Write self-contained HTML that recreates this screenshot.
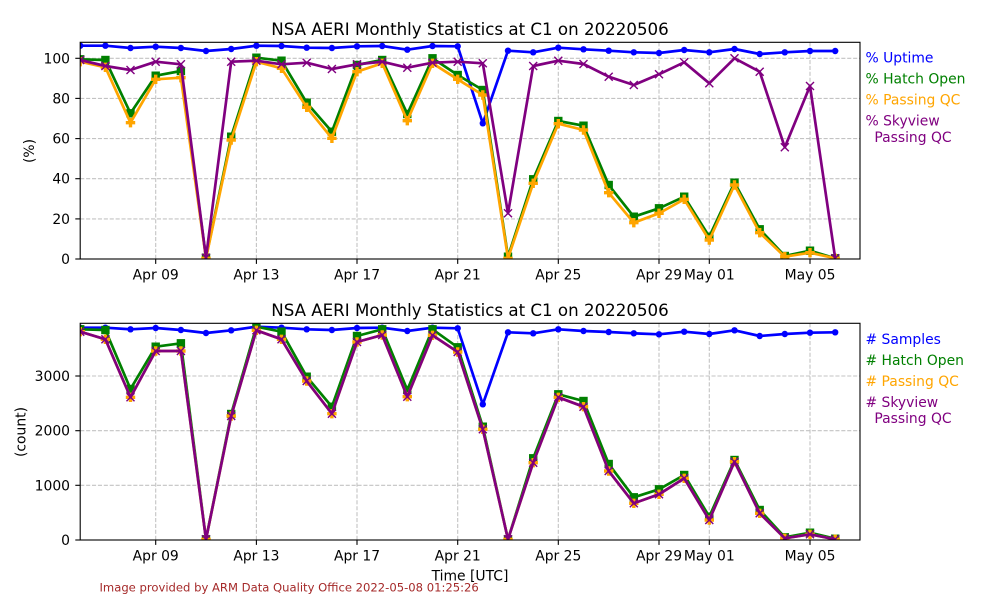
<!DOCTYPE html>
<html><head><meta charset="utf-8"><style>html,body{margin:0;padding:0;background:#fff}svg{display:block}</style></head>
<body>
<svg width="1000" height="600" viewBox="0 0 1000 600" xmlns="http://www.w3.org/2000/svg" font-family="'DejaVu Sans', 'Liberation Sans', sans-serif">
<defs>
<marker id="mb" viewBox="-6 -6 12 12" refX="0" refY="0" markerWidth="12" markerHeight="12" markerUnits="userSpaceOnUse" overflow="visible"><circle r="3.2" fill="#0000ff"/></marker>
<marker id="mg" viewBox="-6 -6 12 12" refX="0" refY="0" markerWidth="12" markerHeight="12" markerUnits="userSpaceOnUse" overflow="visible"><rect x="-4.2" y="-4.2" width="8.4" height="8.4" fill="#008000"/></marker>
<marker id="mo" viewBox="-6 -6 12 12" refX="0" refY="0" markerWidth="12" markerHeight="12" markerUnits="userSpaceOnUse" overflow="visible"><polygon points="-1.7,-4.7 1.7,-4.7 1.7,-1.7 4.7,-1.7 4.7,1.7 1.7,1.7 1.7,4.7 -1.7,4.7 -1.7,1.7 -4.7,1.7 -4.7,-1.7 -1.7,-1.7" fill="#ffa500"/></marker>
<marker id="mp" viewBox="-6 -6 12 12" refX="0" refY="0" markerWidth="12" markerHeight="12" markerUnits="userSpaceOnUse" overflow="visible"><path d="M-4,-4L4,4M-4,4L4,-4" stroke="#800080" stroke-width="1.4" fill="none"/></marker>
<clipPath id="c1"><rect x="80.2" y="42.3" width="779.8" height="216.7"/></clipPath>
<clipPath id="c2"><rect x="80.2" y="323.3" width="779.8" height="216.7"/></clipPath>
</defs>

<!-- ===== TOP PANEL ===== -->
<g stroke="#b0b0b0" stroke-width="1.1" stroke-dasharray="4.1,1.8" opacity="0.75">
<line x1="155.7" y1="42.3" x2="155.7" y2="259"/>
<line x1="256.4" y1="42.3" x2="256.4" y2="259"/>
<line x1="357.0" y1="42.3" x2="357.0" y2="259"/>
<line x1="457.7" y1="42.3" x2="457.7" y2="259"/>
<line x1="558.3" y1="42.3" x2="558.3" y2="259"/>
<line x1="659.0" y1="42.3" x2="659.0" y2="259"/>
<line x1="709.3" y1="42.3" x2="709.3" y2="259"/>
<line x1="810.0" y1="42.3" x2="810.0" y2="259"/>
<line x1="80.2" y1="218.9" x2="860" y2="218.9"/>
<line x1="80.2" y1="178.7" x2="860" y2="178.7"/>
<line x1="80.2" y1="138.6" x2="860" y2="138.6"/>
<line x1="80.2" y1="98.4" x2="860" y2="98.4"/>
<line x1="80.2" y1="58.3" x2="860" y2="58.3"/>
</g>

<g clip-path="url(#c1)" fill="none" stroke-width="2.7" stroke-linejoin="round">
<polyline stroke="#0000ff" marker-start="url(#mb)" marker-mid="url(#mb)" marker-end="url(#mb)" points="80.2,45.7 105.4,45.7 130.5,48.0 155.7,46.7 180.9,48.0 206.0,51.0 231.2,49.0 256.4,45.7 281.5,46.0 306.7,47.7 331.9,48.0 357.0,46.3 382.2,46.0 407.3,49.7 432.5,46.0 457.7,46.3 482.8,123.3 508.0,50.7 533.2,52.3 558.3,47.7 583.5,49.3 608.7,50.7 633.8,52.3 659.0,53.0 684.2,50.0 709.3,52.3 734.5,49.0 759.7,54.0 784.8,52.3 810.0,51.0 835.2,51.0"/>
<polyline stroke="#008000" marker-start="url(#mg)" marker-mid="url(#mg)" marker-end="url(#mg)" points="80.2,59.3 105.4,60.0 130.5,113.3 155.7,75.7 180.9,71.0 206.0,257.7 231.2,136.7 256.4,57.7 281.5,60.7 306.7,102.7 331.9,131.7 357.0,65.0 382.2,60.0 407.3,114.0 432.5,58.3 457.7,75.0 482.8,90.0 508.0,256.7 533.2,179.3 558.3,121.0 583.5,125.7 608.7,185.0 633.8,216.7 659.0,208.3 684.2,196.7 709.3,236.7 734.5,182.7 759.7,229.3 784.8,256.0 810.0,250.7 835.2,258.3"/>
<polyline stroke="#ffa500" marker-start="url(#mo)" marker-mid="url(#mo)" marker-end="url(#mo)" points="80.2,61.7 105.4,67.3 130.5,122.7 155.7,79.3 180.9,77.7 206.0,258.3 231.2,140.0 256.4,61.7 281.5,68.3 306.7,107.3 331.9,138.3 357.0,71.7 382.2,63.3 407.3,120.7 432.5,63.3 457.7,79.3 482.8,95.0 508.0,258.3 533.2,183.3 558.3,123.7 583.5,130.0 608.7,192.7 633.8,222.7 659.0,213.3 684.2,199.3 709.3,240.0 734.5,185.0 759.7,232.7 784.8,256.7 810.0,252.7 835.2,258.3"/>
<polyline stroke="#800080" marker-start="url(#mp)" marker-mid="url(#mp)" marker-end="url(#mp)" points="80.2,60.0 105.4,66.0 130.5,70.0 155.7,61.7 180.9,64.3 206.0,257.7 231.2,61.7 256.4,60.7 281.5,64.3 306.7,62.7 331.9,69.0 357.0,64.3 382.2,61.7 407.3,67.7 432.5,62.7 457.7,61.7 482.8,63.3 508.0,213.3 533.2,66.0 558.3,60.7 583.5,64.0 608.7,76.7 633.8,85.0 659.0,74.3 684.2,62.3 709.3,83.3 734.5,58.3 759.7,71.7 784.8,147.3 810.0,86.0 835.2,258.3"/>
</g>

<rect x="80.2" y="42.3" width="779.8" height="216.7" fill="none" stroke="#000" stroke-width="1.1"/>
<g stroke="#000" stroke-width="1.1">
<line x1="155.7" y1="259" x2="155.7" y2="263.9"/>
<line x1="256.4" y1="259" x2="256.4" y2="263.9"/>
<line x1="357.0" y1="259" x2="357.0" y2="263.9"/>
<line x1="457.7" y1="259" x2="457.7" y2="263.9"/>
<line x1="558.3" y1="259" x2="558.3" y2="263.9"/>
<line x1="659.0" y1="259" x2="659.0" y2="263.9"/>
<line x1="709.3" y1="259" x2="709.3" y2="263.9"/>
<line x1="810.0" y1="259" x2="810.0" y2="263.9"/>
<line x1="75.3" y1="259" x2="80.2" y2="259"/>
<line x1="75.3" y1="218.9" x2="80.2" y2="218.9"/>
<line x1="75.3" y1="178.7" x2="80.2" y2="178.7"/>
<line x1="75.3" y1="138.6" x2="80.2" y2="138.6"/>
<line x1="75.3" y1="98.4" x2="80.2" y2="98.4"/>
<line x1="75.3" y1="58.3" x2="80.2" y2="58.3"/>
</g>
<g font-size="13.9" fill="#000" text-anchor="middle">
<text x="155.7" y="279.5">Apr 09</text>
<text x="256.4" y="279.5">Apr 13</text>
<text x="357.0" y="279.5">Apr 17</text>
<text x="457.7" y="279.5">Apr 21</text>
<text x="558.3" y="279.5">Apr 25</text>
<text x="659.0" y="279.5">Apr 29</text>
<text x="709.3" y="279.5">May 01</text>
<text x="810.0" y="279.5">May 05</text>
</g>
<g font-size="13.9" fill="#000" text-anchor="end">
<text x="70" y="264">0</text>
<text x="70" y="223.9">20</text>
<text x="70" y="183.7">40</text>
<text x="70" y="143.6">60</text>
<text x="70" y="103.4">80</text>
<text x="70" y="63.3">100</text>
</g>
<text x="470" y="35" font-size="16.67" text-anchor="middle" fill="#000">NSA AERI Monthly Statistics at C1 on 20220506</text>
<text transform="translate(34,151) rotate(-90)" font-size="13.9" text-anchor="middle" fill="#000">(%)</text>
<g font-size="13.9">
<text x="865.5" y="62.7" fill="#0000ff">% Uptime</text>
<text x="865.5" y="83.6" fill="#008000">% Hatch Open</text>
<text x="865.5" y="104.5" fill="#ffa500">% Passing QC</text>
<text x="865.5" y="125.5" fill="#800080">% Skyview</text>
<text x="865.5" y="141.8" fill="#800080" xml:space="preserve">  Passing QC</text>
</g>

<!-- ===== BOTTOM PANEL ===== -->
<g stroke="#b0b0b0" stroke-width="1.1" stroke-dasharray="4.1,1.8" opacity="0.75">
<line x1="155.7" y1="323.3" x2="155.7" y2="540"/>
<line x1="256.4" y1="323.3" x2="256.4" y2="540"/>
<line x1="357.0" y1="323.3" x2="357.0" y2="540"/>
<line x1="457.7" y1="323.3" x2="457.7" y2="540"/>
<line x1="558.3" y1="323.3" x2="558.3" y2="540"/>
<line x1="659.0" y1="323.3" x2="659.0" y2="540"/>
<line x1="709.3" y1="323.3" x2="709.3" y2="540"/>
<line x1="810.0" y1="323.3" x2="810.0" y2="540"/>
<line x1="80.2" y1="485.3" x2="860" y2="485.3"/>
<line x1="80.2" y1="430.7" x2="860" y2="430.7"/>
<line x1="80.2" y1="376" x2="860" y2="376"/>
</g>

<g clip-path="url(#c2)" fill="none" stroke-width="2.7" stroke-linejoin="round">
<polyline stroke="#0000ff" marker-start="url(#mb)" marker-mid="url(#mb)" marker-end="url(#mb)" points="80.2,327.7 105.4,327.7 130.5,329.3 155.7,328.0 180.9,330.0 206.0,333.0 231.2,330.3 256.4,326.7 281.5,327.7 306.7,329.3 331.9,330.0 357.0,328.0 382.2,327.7 407.3,331.0 432.5,327.7 457.7,328.3 482.8,404.3 508.0,332.3 533.2,333.3 558.3,329.3 583.5,331.0 608.7,332.0 633.8,333.3 659.0,334.3 684.2,331.7 709.3,334.0 734.5,330.3 759.7,336.0 784.8,334.0 810.0,332.7 835.2,332.3"/>
<polyline stroke="#008000" marker-start="url(#mg)" marker-mid="url(#mg)" marker-end="url(#mg)" points="80.2,329.3 105.4,330.0 130.5,389.0 155.7,346.7 180.9,343.3 206.0,539.3 231.2,414.0 256.4,326.7 281.5,331.7 306.7,376.7 331.9,406.7 357.0,336.0 382.2,329.3 407.3,390.0 432.5,329.3 457.7,347.3 482.8,426.7 508.0,539.3 533.2,458.3 558.3,394.3 583.5,401.0 608.7,464.0 633.8,497.3 659.0,489.3 684.2,475.0 709.3,516.7 734.5,460.0 759.7,510.0 784.8,537.3 810.0,532.7 835.2,538.7"/>
<polyline stroke="#ffa500" marker-start="url(#mo)" marker-mid="url(#mo)" marker-end="url(#mo)" points="80.2,331.7 105.4,339.3 130.5,397.3 155.7,351.0 180.9,351.0 206.0,539.3 231.2,416.0 256.4,330.3 281.5,339.3 306.7,381.0 331.9,413.7 357.0,342.0 382.2,335.0 407.3,396.7 432.5,335.3 457.7,352.0 482.8,429.3 508.0,539.3 533.2,462.7 558.3,397.3 583.5,406.7 608.7,471.0 633.8,503.3 659.0,494.3 684.2,478.3 709.3,520.0 734.5,461.7 759.7,513.3 784.8,538.3 810.0,534.3 835.2,539.3"/>
<polyline stroke="#800080" marker-start="url(#mp)" marker-mid="url(#mp)" marker-end="url(#mp)" points="80.2,331.7 105.4,339.3 130.5,397.3 155.7,351.0 180.9,351.0 206.0,539.3 231.2,416.0 256.4,330.3 281.5,339.3 306.7,381.0 331.9,413.7 357.0,342.0 382.2,335.0 407.3,396.7 432.5,335.3 457.7,352.0 482.8,429.3 508.0,539.3 533.2,462.7 558.3,397.3 583.5,406.7 608.7,471.0 633.8,503.3 659.0,494.3 684.2,478.3 709.3,520.0 734.5,461.7 759.7,513.3 784.8,538.3 810.0,534.3 835.2,539.3"/>
</g>

<rect x="80.2" y="323.3" width="779.8" height="216.7" fill="none" stroke="#000" stroke-width="1.1"/>
<g stroke="#000" stroke-width="1.1">
<line x1="155.7" y1="540" x2="155.7" y2="544.9"/>
<line x1="256.4" y1="540" x2="256.4" y2="544.9"/>
<line x1="357.0" y1="540" x2="357.0" y2="544.9"/>
<line x1="457.7" y1="540" x2="457.7" y2="544.9"/>
<line x1="558.3" y1="540" x2="558.3" y2="544.9"/>
<line x1="659.0" y1="540" x2="659.0" y2="544.9"/>
<line x1="709.3" y1="540" x2="709.3" y2="544.9"/>
<line x1="810.0" y1="540" x2="810.0" y2="544.9"/>
<line x1="75.3" y1="540" x2="80.2" y2="540"/>
<line x1="75.3" y1="485.3" x2="80.2" y2="485.3"/>
<line x1="75.3" y1="430.7" x2="80.2" y2="430.7"/>
<line x1="75.3" y1="376" x2="80.2" y2="376"/>
</g>
<g font-size="13.9" fill="#000" text-anchor="middle">
<text x="155.7" y="560.5">Apr 09</text>
<text x="256.4" y="560.5">Apr 13</text>
<text x="357.0" y="560.5">Apr 17</text>
<text x="457.7" y="560.5">Apr 21</text>
<text x="558.3" y="560.5">Apr 25</text>
<text x="659.0" y="560.5">Apr 29</text>
<text x="709.3" y="560.5">May 01</text>
<text x="810.0" y="560.5">May 05</text>
</g>
<g font-size="13.9" fill="#000" text-anchor="end">
<text x="70" y="545">0</text>
<text x="70" y="490.3">1000</text>
<text x="70" y="435.7">2000</text>
<text x="70" y="381">3000</text>
</g>
<text x="470" y="315.8" font-size="16.67" text-anchor="middle" fill="#000">NSA AERI Monthly Statistics at C1 on 20220506</text>
<text transform="translate(25.6,432) rotate(-90)" font-size="13.9" text-anchor="middle" fill="#000">(count)</text>
<g font-size="13.9">
<text x="865.5" y="343.8" fill="#0000ff"># Samples</text>
<text x="865.5" y="364.8" fill="#008000"># Hatch Open</text>
<text x="865.5" y="386" fill="#ffa500"># Passing QC</text>
<text x="865.5" y="407" fill="#800080"># Skyview</text>
<text x="865.5" y="422.8" fill="#800080" xml:space="preserve">  Passing QC</text>
</g>

<text x="470" y="580.5" font-size="13.9" text-anchor="middle" fill="#000">Time [UTC]</text>
<text x="99.5" y="591.5" font-size="11.6" fill="#a52a2a">Image provided by ARM Data Quality Office 2022-05-08 01:25:26</text>
</svg>
</body></html>
